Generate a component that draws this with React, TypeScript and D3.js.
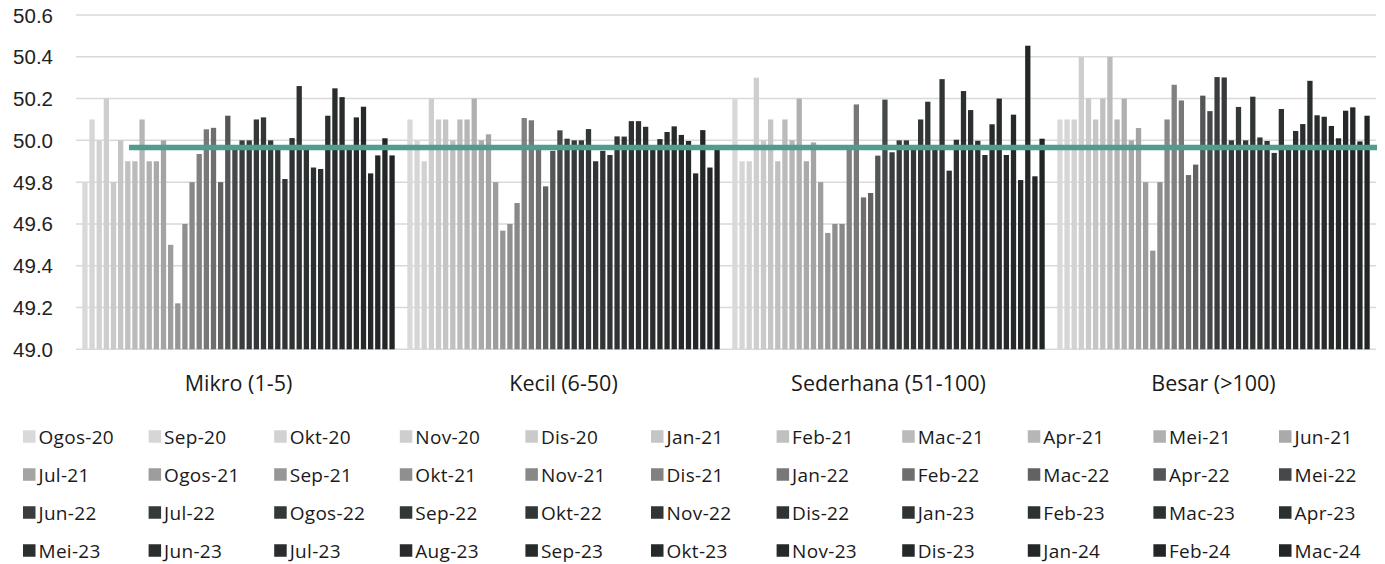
import * as d3 from "d3";

const categories = ["Mikro (1-5)", "Kecil (6-50)", "Sederhana (51-100)", "Besar (>100)"];

const months = [
  "Ogos-20", "Sep-20", "Okt-20", "Nov-20", "Dis-20",
  "Jan-21", "Feb-21", "Mac-21", "Apr-21", "Mei-21", "Jun-21", "Jul-21",
  "Ogos-21", "Sep-21", "Okt-21", "Nov-21", "Dis-21",
  "Jan-22", "Feb-22", "Mac-22", "Apr-22", "Mei-22", "Jun-22", "Jul-22",
  "Ogos-22", "Sep-22", "Okt-22", "Nov-22", "Dis-22",
  "Jan-23", "Feb-23", "Mac-23", "Apr-23", "Mei-23", "Jun-23", "Jul-23",
  "Aug-23", "Sep-23", "Okt-23", "Nov-23", "Dis-23",
  "Jan-24", "Feb-24", "Mac-24",
];

// one value per month, per category
const mikro = [
  49.8, 50.1, 50.0, 50.2, 49.8, 50.0, 49.9, 49.9, 50.1, 49.9, 49.9,
  50.0, 49.5, 49.22, 49.6, 49.8, 49.935, 50.053, 50.06, 49.8, 50.118, 49.96,
  50.0, 50.0, 50.1, 50.11, 50.0, 49.97, 49.815, 50.011, 50.26, 49.97, 49.87,
  49.863, 50.118, 50.249, 50.207, 49.97, 50.11, 50.161, 49.842, 49.928, 50.01, 49.928,
];
const kecil = [
  50.1, 50.0, 49.9, 50.2, 50.1, 50.1, 50.0, 50.1, 50.1, 50.2, 50.0,
  50.029, 49.8, 49.568, 49.6, 49.7, 50.107, 50.096, 49.96, 49.78, 49.95, 50.048,
  50.008, 50.0, 50.0, 50.054, 49.9, 49.95, 49.93, 50.019, 50.018, 50.092, 50.092,
  50.065, 49.97, 50.006, 50.04, 50.067, 50.026, 49.997, 49.842, 50.049, 49.87, 49.96,
];
const sederhana = [
  50.2, 49.9, 49.9, 50.3, 50.0, 50.1, 49.9, 50.1, 50.0, 50.2, 49.9,
  49.99, 49.8, 49.557, 49.6, 49.6, 49.957, 50.172, 49.727, 49.748, 49.927, 50.195,
  49.943, 50.0, 50.0, 49.97, 50.1, 50.185, 49.97, 50.293, 49.855, 50.003, 50.236,
  50.145, 49.998, 49.93, 50.077, 50.2, 49.93, 50.123, 49.81, 50.453, 49.828, 50.008,
];
const besar = [
  50.1, 50.1, 50.1, 50.4, 50.2, 50.1, 50.2, 50.4, 50.1, 50.2, 50.0,
  50.059, 49.8, 49.472, 49.8, 50.1, 50.266, 50.191, 49.834, 49.884, 50.214, 50.14,
  50.303, 50.301, 50.0, 50.16, 50.0, 50.209, 50.014, 49.997, 49.94, 50.15, 49.97,
  50.045, 50.078, 50.285, 50.12, 50.113, 50.069, 50.01, 50.142, 50.158, 49.995, 50.118,
];
const seriesByCategory = [mikro, kecil, sederhana, besar];

const referenceLine = 49.966;
const yTicks = [49.0, 49.2, 49.4, 49.6, 49.8, 50.0, 50.2, 50.4, 50.6];

// grey ramp, light (oldest) to dark (newest)
const monthColors = [
  "#d9d9d9", "#d6d6d6", "#d2d2d2", "#cecece", "#cacaca",
  "#c5c5c5", "#c0c0c0", "#bbbbbb", "#b6b6b6", "#b0b0b0", "#aaaaaa", "#a4a4a4",
  "#9d9d9d", "#969696", "#8f8f8f", "#888888", "#818181",
  "#787878", "#6e6e6e", "#626262", "#525656", "#454949", "#393d3d", "#363a3a",
  "#343838", "#333737", "#323636", "#313535", "#303434",
  "#2f3333", "#2e3232", "#2d3131", "#2c3030", "#2b2f2f", "#2a2e2e", "#292d2d",
  "#282c2c", "#272b2b", "#262a2a", "#252929", "#242828",
  "#232727", "#222626", "#212525",
];

const W = 1385;
const H = 564;
const plot = { left: 76, right: 1376, top: 15, bottom: 349.3 };

export default function App() {
  const y = d3.scaleLinear().domain([49.0, 50.6]).range([plot.bottom, plot.top]);
  const xGroup = d3.scaleBand<string>().domain(categories).range([plot.left, plot.right]);
  const xBar = d3
    .scaleBand<string>()
    .domain(months)
    .range([0, xGroup.bandwidth()])
    .paddingInner(0.26)
    .paddingOuter(0.88);

  const legendX = d3.scaleLinear().domain([0, 10]).range([23, 1279]);
  const legendY = d3.scaleLinear().domain([0, 3]).range([436.5, 550.5]);
  const sw = 12.5;

  return (
    <div style={{ position: "absolute", left: 0, top: 0 }}>
      <svg width={W} height={H} style={{ display: "block", background: "#fff" }}>
        {/* gridlines */}
        {yTicks.map((t) => (
          <line
            key={t}
            x1={plot.left}
            x2={plot.right}
            y1={y(t)}
            y2={y(t)}
            stroke="#d9d9d9"
            strokeWidth={1.5}
          />
        ))}
        {yTicks.map((t) => (
          <text
            key={"l" + t}
            x={53}
            y={y(t)}
            textAnchor="end"
            dominantBaseline="central"
            fontFamily="Liberation Sans, Arial, sans-serif"
            fontSize={20.5}
            fill="#222"
          >
            {t.toFixed(1)}
          </text>
        ))}

        {/* bars */}
        {categories.map((c, ci) => (
          <g key={c} transform={`translate(${xGroup(c)},0)`}>
            {seriesByCategory[ci].map((v, i) => (
              <rect
                key={months[i]}
                x={xBar(months[i])}
                width={xBar.bandwidth()}
                y={y(v)}
                height={y(49.0) - y(v)}
                fill={monthColors[i]}
              />
            ))}
          </g>
        ))}

        {/* reference line */}
        <line
          x1={129}
          x2={1377}
          y1={y(referenceLine)}
          y2={y(referenceLine)}
          stroke="#4f9d8f"
          strokeWidth={5.5}
        />

        {/* category labels */}
        {categories.map((c) => (
          <text
            key={"c" + c}
            x={xGroup(c)! + xGroup.bandwidth() / 2}
            y={382}
            textAnchor="middle"
            dominantBaseline="central"
            fontFamily="Open Sans, sans-serif"
            fontSize={21.5}
            fill="#1a1a1a"
          >
            {c}
          </text>
        ))}

        {/* legend */}
        {months.map((m, i) => {
          const col = i % 11;
          const row = Math.floor(i / 11);
          const lx = legendX(col);
          const ly = legendY(row);
          return (
            <g key={"lg" + m}>
              <rect x={lx} y={ly - sw / 2} width={sw} height={sw} fill={monthColors[i]} />
              <text
                x={lx + sw + 3}
                y={ly}
                dominantBaseline="central"
                fontFamily="Open Sans, sans-serif"
                fontSize={19}
                letterSpacing={0.3}
                fill="#1a1a1a"
              >
                {m}
              </text>
            </g>
          );
        })}
      </svg>
    </div>
  );
}
